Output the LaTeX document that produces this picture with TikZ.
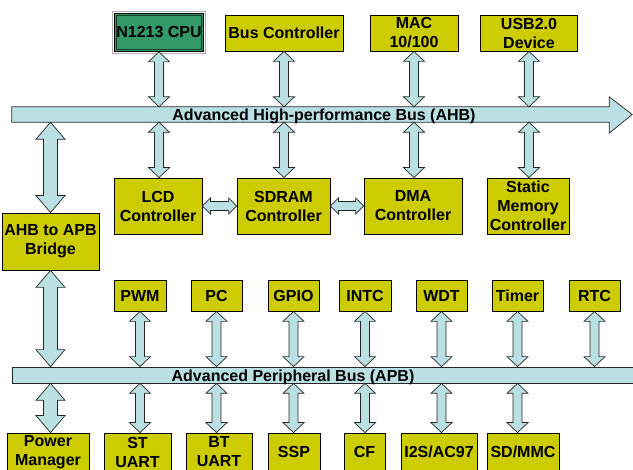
\documentclass[tikz,border=0pt]{standalone}
\usepackage{fontspec}
\setmainfont{Liberation Sans}
\usetikzlibrary{calc}
\definecolor{boxYellow}{HTML}{CCCC00}
\definecolor{busBlue}{HTML}{BBE0E3}
\definecolor{cpuGreen}{HTML}{339966}

% double block arrow from #1 to #2: half shaft #3, half head #4, head length #5
\newcommand{\dblarrow}[5]{%
  \coordinate (ba) at (#1);
  \coordinate (bb) at (#2);
  \draw[barr] (ba)
    -- ($(ba)!#5!(bb)!#4!90:(bb)$) -- ($(ba)!#5!(bb)!#3!90:(bb)$)
    -- ($(bb)!#5!(ba)!#3!-90:(ba)$) -- ($(bb)!#5!(ba)!#4!-90:(ba)$)
    -- (bb)
    -- ($(bb)!#5!(ba)!#4!90:(ba)$) -- ($(bb)!#5!(ba)!#3!90:(ba)$)
    -- ($(ba)!#5!(bb)!#3!-90:(bb)$) -- ($(ba)!#5!(bb)!#4!-90:(bb)$)
    -- cycle;}
\newcommand{\thinarrow}[2]{\dblarrow{#1}{#2}{4.5pt}{10.5pt}{10pt}}
\newcommand{\widearrow}[2]{\dblarrow{#1}{#2}{7pt}{14.5pt}{17pt}}
\newcommand{\sidearrow}[2]{\dblarrow{#1}{#2}{4.5pt}{8pt}{8pt}}

\begin{document}
\begin{tikzpicture}[x=1pt, y=-1pt,
  box/.style={draw=black, line width=0.8pt, fill=boxYellow, align=center, inner sep=0pt, font=\fontsize{16}{19}\selectfont\bfseries},
  topbox/.style={box, minimum height=36pt},
  midbox/.style={box, minimum height=56pt},
  perbox/.style={box, minimum height=31pt},
  lowbox/.style={box, minimum height=38pt},
  barr/.style={draw=black!85, line width=0.7pt, fill=busBlue, line join=miter},
  buslab/.style={font=\fontsize{16}{19}\selectfont\bfseries, inner sep=0pt, anchor=base}
]
\clip (0,0) rectangle (633,470);

% buses
\node[minimum width=597pt, minimum height=15pt, inner sep=0pt] (ahb) at (310.5,114.5) {};
\draw[barr] (ahb.north west) -- (ahb.north east) -- ++(0,-10) -- ($(ahb.east)+(23,0)$)
  -- ($(ahb.south east)+(0,11)$) -- (ahb.south east) -- (ahb.south west) -- cycle;
\node[barr, minimum width=633pt, minimum height=16pt, inner sep=0pt] (apb) at (328.5,375) {};

% AHB masters and slaves
\node[box, fill=cpuGreen, minimum width=89pt, minimum height=38pt,
  path picture={\draw[black!60!cpuGreen, line width=0.9pt]
    ([shift={(2.3,2.3)}]path picture bounding box.north west) rectangle
    ([shift={(-2.3,-2.3)}]path picture bounding box.south east);}] (cpu) at (159,32.5) {N1213 CPU};
\draw[gray!60, line width=1pt] ([shift={(-1.2,-1.2)}]cpu.north west) rectangle ([shift={(1.2,1.2)}]cpu.south east);
\node[topbox, minimum width=118pt] (busctl) at (284,33) {Bus Controller};
\node[topbox, minimum width=88pt] (mac) at (414,33) {MAC\\10/100};
\node[topbox, minimum width=97pt] (usb) at (529,33) {USB2.0\\Device};

\node[midbox, minimum width=88pt] (lcd) at (158,206) {LCD\\Controller};
\node[midbox, minimum width=93pt] (sdram) at (283.5,206) {SDRAM\\Controller};
\node[midbox, minimum width=98pt] (dma) at (413,206) {DMA\\Controller};
\node[midbox, minimum width=82pt] (smc) at (528,206) {Static\\Memory\\Controller};

\node[box, minimum width=97pt, minimum height=57pt] (bridge) at (50.5,241.5) {AHB to APB\\Bridge};

% APB peripherals
\node[perbox, minimum width=52pt] (pwm) at (140,295.5) {PWM};
\node[perbox, minimum width=51pt] (pc) at (216.5,295.5) {PC};
\node[perbox, minimum width=51pt] (gpio) at (293.5,295.5) {GPIO};
\node[perbox, minimum width=52pt] (intc) at (365,295.5) {INTC};
\node[perbox, minimum width=51pt] (wdt) at (441.5,295.5) {WDT};
\node[perbox, minimum width=51pt] (timer) at (517.5,295.5) {Timer};
\node[perbox, minimum width=51pt] (rtc) at (594.5,295.5) {RTC};

\node[lowbox, minimum width=82pt] (power) at (48,452) {Power\\Manager};
\node[lowbox, minimum width=67pt] (stuart) at (137.5,452) {ST\\UART};
\node[lowbox, minimum width=66pt] (btuart) at (219,452) {BT\\UART};
\node[lowbox, minimum width=52pt] (ssp) at (294,452) {SSP};
\node[lowbox, minimum width=41pt] (cf) at (364.5,452) {CF};
\node[lowbox, minimum width=76pt] (i2s) at (439,452) {I2S/AC97};
\node[lowbox, minimum width=72pt] (sdmmc) at (523,452) {SD/MMC};

% AHB connections
\thinarrow{cpu.south}{cpu.south |- ahb.north}
\thinarrow{busctl.south}{busctl.south |- ahb.north}
\thinarrow{mac.south}{mac.south |- ahb.north}
\thinarrow{usb.south}{usb.south |- ahb.north}
\thinarrow{ahb.south -| cpu.south}{lcd.north -| cpu.south}
\thinarrow{ahb.south -| busctl.south}{sdram.north -| busctl.south}
\thinarrow{ahb.south -| mac.south}{dma.north -| mac.south}
\thinarrow{ahb.south -| usb.south}{smc.north -| usb.south}
\sidearrow{lcd.east}{sdram.west}
\sidearrow{sdram.east}{dma.west}

% bridge
\widearrow{ahb.south -| bridge.north}{bridge.north}
\widearrow{bridge.south}{bridge.south |- apb.north}
\widearrow{apb.south -| bridge.south}{power.north -| bridge.south}

% APB connections
\foreach \p in {pwm, pc, gpio, intc, wdt, timer, rtc}
  \thinarrow{\p.south}{\p.south |- apb.north};
\foreach \p/\q in {pwm/stuart, pc/btuart, gpio/ssp, intc/cf, wdt/i2s, timer/sdmmc}
  \thinarrow{apb.south -| \p.south}{\q.north -| \p.south};

% bus labels
\node[buslab] (ahblab) at (324,121) {Advanced High-performance Bus (AHB)};
\node[buslab] (apblab) at (293,382) {Advanced Peripheral Bus (APB)};
\end{tikzpicture}
\end{document}
